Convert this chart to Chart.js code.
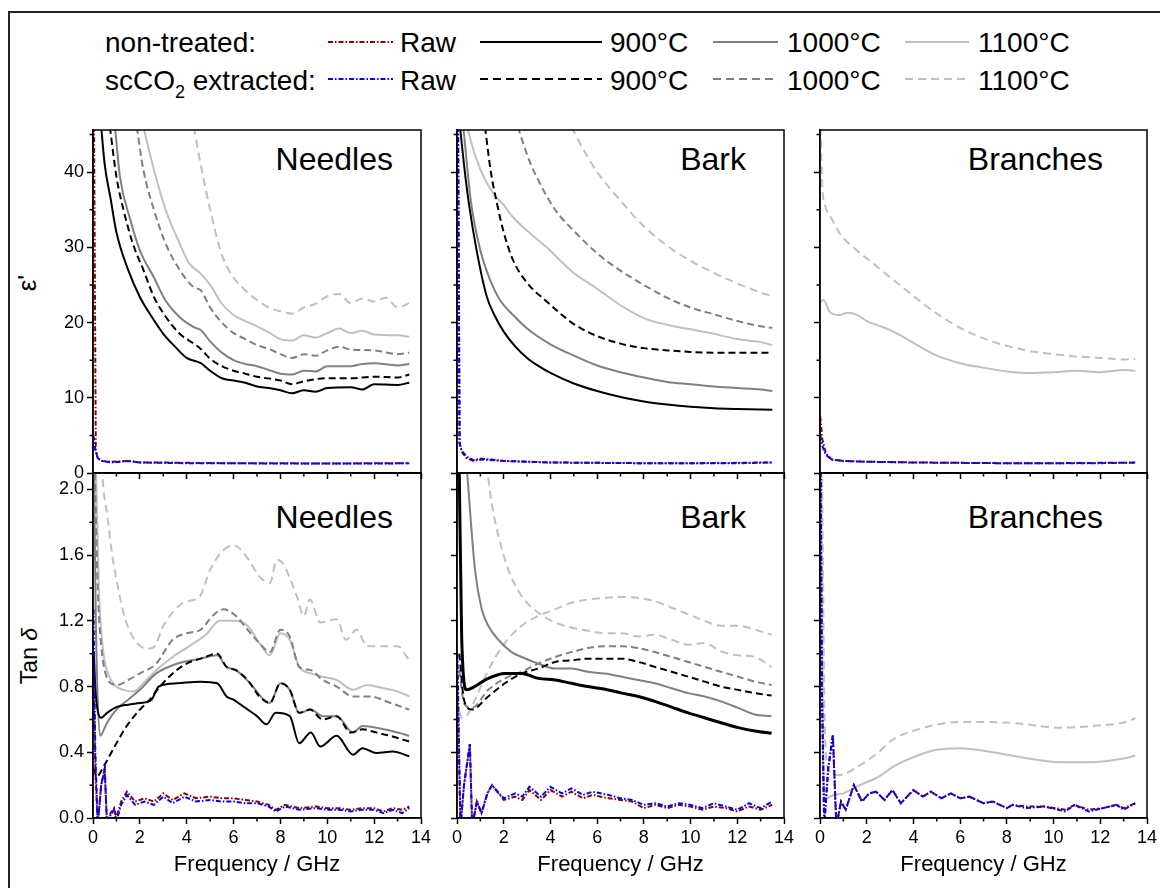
<!DOCTYPE html>
<html>
<head>
<meta charset="utf-8">
<script src="https://cdn.jsdelivr.net/npm/chart.js@4.4.0/dist/chart.umd.min.js"></script>
<style>
  body { margin: 0; width: 1160px; height: 888px; overflow: hidden; background: #fff; position: relative;
         font-family: "Liberation Sans", Arial, sans-serif; color: #000; }
  #frame { position: absolute; left: 8px; top: 11px; width: 1200px; height: 1000px; border: 2px solid #222; }
  .txt { position: absolute; line-height: 1; white-space: nowrap; }
  .leg { font-size: 28px; }
  .plab { font-size: 32px; }
  .ytitle { font-size: 23px; transform: translate(-50%, -50%) rotate(-90deg); }
  #legendLines { position: absolute; left: 0; top: 0; }
</style>
</head>
<body>
<div id="frame"></div>

<!-- legend -->
<svg id="legendLines" width="1160" height="110">
  <line x1="328" y1="42" x2="393" y2="42" stroke="#8b0000" stroke-width="2" stroke-dasharray="5 2 1.5 2"/>
  <line x1="328" y1="79" x2="393" y2="79" stroke="#0000ff" stroke-width="2" stroke-dasharray="5 2 1.5 2"/>
  <line x1="480" y1="42" x2="602" y2="42" stroke="#000" stroke-width="2"/>
  <line x1="480" y1="79" x2="602" y2="79" stroke="#000" stroke-width="2" stroke-dasharray="8 5"/>
  <line x1="713" y1="42" x2="778" y2="42" stroke="#808080" stroke-width="2"/>
  <line x1="713" y1="79" x2="778" y2="79" stroke="#808080" stroke-width="2" stroke-dasharray="8 5"/>
  <line x1="905" y1="42" x2="969" y2="42" stroke="#c0c0c0" stroke-width="2"/>
  <line x1="905" y1="79" x2="969" y2="79" stroke="#c0c0c0" stroke-width="2" stroke-dasharray="8 5"/>
</svg>
<div class="txt leg" style="left:105px;top:29px">non-treated:</div>
<div class="txt leg" style="left:105px;top:67px">scCO<sub style="font-size:18px;vertical-align:-8px">2</sub> extracted:</div>
<div class="txt leg" style="left:400px;top:29px">Raw</div>
<div class="txt leg" style="left:400px;top:67px">Raw</div>
<div class="txt leg" style="left:610px;top:29px">900°C</div>
<div class="txt leg" style="left:610px;top:67px">900°C</div>
<div class="txt leg" style="left:787px;top:29px">1000°C</div>
<div class="txt leg" style="left:787px;top:67px">1000°C</div>
<div class="txt leg" style="left:978px;top:29px">1100°C</div>
<div class="txt leg" style="left:978px;top:67px">1100°C</div>

<!-- axis titles -->
<div class="txt ytitle" style="left:27px;top:283px;font-size:26px">ε'</div>
<div class="txt ytitle" style="left:29px;top:656px">Tan <i>δ</i></div>

<!-- panel labels -->
<div class="txt plab" style="right:767px;top:143px">Needles</div>
<div class="txt plab" style="right:414px;top:143px">Bark</div>
<div class="txt plab" style="right:57px;top:143px">Branches</div>
<div class="txt plab" style="right:767px;top:501px">Needles</div>
<div class="txt plab" style="right:414px;top:501px">Bark</div>
<div class="txt plab" style="right:57px;top:501px">Branches</div>

<script>
// tick positions
const xTicks = [0, 2, 4, 6, 8, 10, 12, 14];
const xMinor = [1, 3, 5, 7, 9, 11, 13];
const epsTicks = [0, 10, 20, 30, 40];
const epsMinor = [5, 15, 25, 35, 45];
const tanTicks = [0, 0.4, 0.8, 1.2, 1.6, 2.0];
const tanMinor = [0.2, 0.6, 1.0, 1.4, 1.8];

// ---- epsilon' : [frequency GHz, value] ----
const epsNeedlesRawNT = [[0.02,60],[0.12,3],[0.2,2],[0.4,1.6],[0.8,1.5],[1.5,1.6],[2,1.4],[3,1.4],[4,1.35],[6,1.3],[8,1.3],[10,1.25],[12,1.3],[13.5,1.3]];
const epsNeedlesRawSC = [[0.02,5],[0.1,3],[0.2,2],[0.35,1.6],[0.8,1.4],[1.5,1.6],[2,1.4],[3,1.35],[4,1.3],[6,1.3],[8,1.25],[10,1.25],[12,1.25],[13.5,1.3]];
const epsNeedles900 = [[0.35,46],[0.5,41],[0.75,36.5],[1,32],[1.5,27],[2,23.4],[2.5,20.8],[3,18.5],[3.5,16.8],[4,15.3],[4.6,14.6],[5,13.6],[5.5,12.6],[6,12.3],[6.5,12],[7,11.5],[7.5,11.3],[8,11],[8.5,10.6],[9,11],[9.5,10.8],[10,11.3],[11,11.4],[11.5,11.1],[12,11.8],[13,11.7],[13.5,12]];
const epsNeedles900sc = [[0.72,46],[1,39.4],[1.3,35],[1.7,30.5],[2.15,27],[2.6,23.4],[3.1,20.8],[3.7,18.5],[4.3,17.2],[4.6,16.5],[5,15.2],[5.5,14.2],[6,13.6],[6.5,13.2],[7,12.8],[8,12.3],[8.5,11.8],[9,12.2],[10,12.6],[11,12.6],[12,12.8],[13,12.7],[13.5,13.1]];
const epsNeedles1000 = [[0.94,46],[1.15,39.4],[1.6,33.6],[2,29.6],[2.6,26],[3.1,22.9],[3.7,20.7],[4.3,19.4],[4.6,19],[5,17.5],[5.5,16],[6,15],[6.5,14.5],[7,14.2],[7.5,13.7],[8,13.2],[8.5,13.1],[9,13.6],[9.5,13.5],[10,14.2],[11,14.2],[11.5,14.5],[12,14.6],[13,14.3],[13.5,14.5]];
const epsNeedles1000sc = [[1.87,46],[2.15,40.3],[2.6,35],[3.1,30.5],[3.7,27],[4.3,24.7],[4.6,24.3],[5,22],[5.5,20],[6,18.6],[6.5,17.8],[7,17],[7.5,16.5],[8,15.8],[8.5,15.3],[9,15.8],[9.5,15.6],[10,16.3],[10.5,16.8],[11,16.4],[12,16.3],[13,15.8],[13.5,16]];
const epsNeedles1100 = [[2.15,46],[2.6,40.3],[3.1,35],[3.7,30.5],[4.1,27.9],[4.6,26.5],[5,25],[5.5,22.5],[6,21],[6.5,20.2],[7,19.5],[7.5,18.7],[8,17.8],[8.5,17.6],[9,18.3],[9.5,18],[10,18.6],[10.5,19.2],[11,18.6],[11.5,18.9],[12,18.4],[13,18.3],[13.5,18.1]];
const epsNeedles1100sc = [[4.3,46],[4.6,41],[5,35],[5.5,29],[6,26],[6.5,24.3],[7,23],[7.5,22],[8,21.5],[8.5,21.2],[9,22],[9.5,22.5],[10,23.5],[10.5,23.8],[11,22.6],[11.5,23.2],[12,22.8],[12.5,23.3],[13,22],[13.5,22.6]];

const epsBarkRawNT = [[0.02,60],[0.12,4],[0.2,2.8],[0.4,2],[0.7,1.6],[1,1.8],[1.5,1.7],[2,1.6],[3,1.5],[4,1.4],[6,1.35],[8,1.3],[10,1.3],[12,1.3],[13.5,1.4]];
const epsBarkRawSC = [[0.03,60],[0.1,4],[0.2,3],[0.4,2.2],[0.7,1.7],[1,1.9],[1.5,1.8],[2,1.6],[3,1.5],[4,1.4],[6,1.35],[8,1.3],[10,1.3],[12,1.35],[13.5,1.4]];
const epsBark900 = [[0.13,46],[0.3,41],[0.5,36],[0.84,29.6],[1.27,23.5],[1.6,21],[2,18.8],[2.5,16.8],[3,15.3],[3.5,14.2],[4,13.3],[5,11.9],[6,10.9],[7,10.1],[8,9.5],[9,9.1],[10,8.8],[11,8.6],[12,8.5],[13.5,8.4]];
const epsBark900sc = [[1.2,46],[1.45,40],[1.7,36],[2,32],[2.4,28.3],[3,25.3],[3.84,22.8],[4.5,21],[5,19.8],[6,18.2],[7,17.2],[8,16.6],[9,16.3],[10,16.1],[11,16],[12,16],[13.5,16]];
const epsBark1000 = [[0.27,46],[0.6,36],[1,29.6],[1.4,25.8],[1.84,23],[2.5,20.7],[3,19.2],[4,17.1],[5,15.6],[6,14.3],[7,13.4],[8,12.7],[9,12.1],[10,11.8],[11,11.5],[12,11.3],[13,11.1],[13.5,10.9]];
const epsBark1000sc = [[2.6,46],[3.1,41.5],[3.55,38.5],[4.2,35],[5,32.2],[6,29.2],[7,26.9],[8,25],[9,23.3],[10,22],[11,21.1],[12,20.2],[13,19.5],[13.5,19.3]];
const epsBark1100 = [[0.42,46],[0.8,42],[1.2,39],[1.55,37.2],[2,35.6],[2.4,34],[3,32.2],[3.84,30],[4.5,28],[5,26.6],[6,24.5],[7,22.3],[8,20.6],[9,19.7],[10,19.1],[11,18.5],[12,17.8],[13,17.4],[13.5,17]];
const epsBark1100sc = [[4.9,46],[5.5,42.5],[6,40],[7,36.2],[8,32.8],[9,30.2],[10,28.2],[11,26.6],[12,25.2],[13,24],[13.5,23.5]];

const epsBranchesRawNT = [[0.01,7.5],[0.1,4.5],[0.25,2.6],[0.5,1.8],[1,1.6],[2,1.5],[4,1.4],[6,1.35],[8,1.3],[10,1.3],[12,1.3],[13.5,1.4]];
const epsBranchesRawSC = [[0.01,5],[0.1,3.6],[0.25,2.4],[0.5,1.8],[1,1.6],[2,1.5],[4,1.4],[6,1.35],[8,1.3],[10,1.3],[12,1.35],[13.5,1.35]];
const epsBranches1100 = [[0.02,22.8],[0.15,23],[0.4,21.5],[0.8,21],[1.2,21.3],[1.6,21],[2,20.2],[2.5,19.6],[3,19],[3.5,18.2],[4,17.3],[4.5,16.4],[5,15.6],[6,14.6],[7,14],[8,13.5],[9,13.3],[10,13.4],[11,13.6],[12,13.4],[13,13.7],[13.5,13.6]];
const epsBranches1100sc = [[0.02,46],[0.1,38],[0.2,35.8],[0.5,33.8],[0.86,31.8],[1.5,29.8],[2.3,27.8],[3,26],[3.7,24.3],[4.5,22.3],[5,21.2],[6,19.3],[7,17.9],[8,16.9],[9,16.2],[10,15.8],[11,15.5],[12,15.3],[13,15.1],[13.5,15.2]];

// ---- tan delta : [frequency GHz, value] ----
const tanNeedlesRawNT = [[0.02,0.9],[0.1,0.3],[0.2,-0.05],[0.35,0.2],[0.5,0.3],[0.6,-0.05],[0.75,0.03],[0.9,0.06],[1.0,0.0],[1.2,0.1],[1.45,0.16],[1.8,0.1],[2.2,0.12],[2.6,0.1],[3.0,0.15],[3.4,0.11],[3.9,0.15],[4.4,0.12],[5,0.13],[5.5,0.12],[6,0.12],[6.5,0.11],[7,0.1],[7.5,0.08],[7.8,0.05],[8.2,0.08],[8.8,0.06],[9.5,0.07],[10,0.06],[10.5,0.06],[11,0.05],[11.5,0.06],[12,0.06],[12.4,0.04],[12.8,0.06],[13.2,0.05],[13.5,0.07]];
const tanNeedlesRawSC = [[0.02,1.27],[0.1,0.4],[0.2,-0.05],[0.35,0.2],[0.5,0.3],[0.6,-0.05],[0.75,0.02],[0.9,0.05],[1.0,-0.02],[1.2,0.08],[1.45,0.14],[1.8,0.08],[2.2,0.1],[2.6,0.08],[3.0,0.13],[3.4,0.09],[3.9,0.13],[4.4,0.1],[5,0.11],[5.5,0.1],[6,0.1],[6.5,0.09],[7,0.09],[7.5,0.07],[7.8,0.04],[8.2,0.07],[8.8,0.05],[9.5,0.06],[10,0.05],[10.5,0.05],[11,0.04],[11.5,0.05],[12,0.05],[12.4,0.03],[12.8,0.05],[13.2,0.03],[13.5,0.06]];
const tanNeedles900 = [[0.03,1.0],[0.12,0.75],[0.35,0.61],[0.6,0.64],[1,0.675],[1.5,0.69],[2,0.7],[2.5,0.72],[2.8,0.8],[3.6,0.82],[4.6,0.83],[5.3,0.82],[5.7,0.74],[6,0.72],[6.4,0.68],[7,0.62],[7.4,0.57],[7.8,0.64],[8.4,0.62],[8.8,0.455],[9.3,0.52],[9.7,0.435],[10.4,0.5],[11.1,0.385],[11.5,0.425],[12.1,0.395],[12.8,0.405],[13.5,0.375]];
const tanNeedles900sc = [[0.05,0.3],[0.15,0.25],[0.44,0.31],[1,0.455],[1.44,0.56],[2,0.66],[2.36,0.71],[2.86,0.8],[3.4,0.88],[4,0.94],[4.6,0.97],[5.3,1.0],[5.7,0.92],[6.1,0.9],[6.6,0.84],[7.1,0.74],[7.55,0.7],[8,0.82],[8.4,0.78],[8.8,0.64],[9.26,0.66],[9.8,0.6],[10.4,0.62],[11,0.52],[11.5,0.54],[12.1,0.52],[12.7,0.5],[13.5,0.465]];
const tanNeedles1000 = [[0.03,2.3],[0.12,1.2],[0.3,0.5],[0.6,0.58],[1,0.66],[1.5,0.72],[2,0.78],[2.7,0.88],[3.6,0.94],[4.6,0.97],[5.3,0.99],[5.7,0.92],[6.1,0.9],[6.7,0.82],[7.3,0.72],[7.55,0.7],[8,0.82],[8.4,0.78],[8.8,0.64],[9.3,0.66],[9.8,0.62],[10.4,0.62],[11.1,0.52],[11.5,0.56],[12.4,0.54],[13,0.52],[13.5,0.5]];
const tanNeedles1000sc = [[0.05,2.3],[0.2,1.4],[0.35,1.05],[0.5,0.9],[0.75,0.82],[1.05,0.81],[1.5,0.84],[2,0.88],[2.7,0.94],[3.4,1.085],[4,1.125],[4.6,1.146],[5.1,1.23],[5.56,1.27],[6.1,1.23],[6.6,1.146],[7.1,1.065],[7.55,1.01],[8,1.146],[8.4,1.105],[8.8,0.92],[9.3,0.9],[9.8,0.84],[10.4,0.8],[11.1,0.74],[11.8,0.74],[12.7,0.7],[13.5,0.66]];
const tanNeedles1100 = [[0.1,2.3],[0.25,1.4],[0.45,1.0],[0.7,0.86],[1.0,0.8],[1.3,0.78],[1.72,0.77],[2.15,0.82],[2.7,0.9],[3.4,0.98],[4.1,1.045],[4.85,1.12],[5.4,1.2],[6,1.2],[6.6,1.17],[7.1,1.065],[7.55,0.99],[8,1.125],[8.4,1.085],[8.8,0.92],[9.3,0.88],[9.8,0.86],[10.4,0.84],[11.1,0.78],[11.7,0.81],[12.4,0.79],[13,0.77],[13.5,0.74]];
const tanNeedles1100sc = [[0.3,2.3],[0.45,2.0],[0.6,1.85],[0.8,1.62],[1.0,1.45],[1.4,1.2],[1.8,1.08],[2.3,1.03],[2.6,1.04],[3.0,1.17],[3.85,1.31],[4.56,1.35],[5.0,1.51],[5.56,1.63],[6.0,1.66],[6.56,1.59],[7.1,1.47],[7.55,1.43],[7.84,1.57],[8.1,1.55],[8.7,1.35],[9.0,1.23],[9.26,1.33],[9.7,1.19],[10.4,1.21],[10.8,1.085],[11.25,1.146],[11.7,1.045],[12.4,1.045],[13.0,1.045],[13.5,0.96]];

const tanBarkRawNT = [[0.02,0.8],[0.08,0.4],[0.15,-0.05],[0.3,0.2],[0.45,0.35],[0.55,0.45],[0.65,-0.05],[0.85,0.1],[1.05,0.03],[1.3,0.15],[1.5,0.2],[2,0.11],[2.5,0.13],[2.8,0.11],[3.1,0.17],[3.6,0.11],[4.0,0.17],[4.5,0.13],[4.9,0.16],[5.4,0.12],[5.8,0.14],[6.5,0.12],[7,0.11],[7.5,0.1],[8,0.06],[8.5,0.08],[9,0.06],[9.5,0.08],[10,0.07],[10.5,0.05],[11,0.07],[11.5,0.06],[12,0.04],[12.5,0.07],[13,0.05],[13.5,0.08]];
const tanBarkRawSC = [[0.02,1.0],[0.08,0.5],[0.15,-0.05],[0.3,0.2],[0.45,0.35],[0.55,0.45],[0.65,-0.05],[0.85,0.1],[1.05,0.03],[1.3,0.15],[1.5,0.2],[2,0.12],[2.5,0.15],[2.8,0.13],[3.1,0.19],[3.6,0.13],[4.0,0.19],[4.5,0.15],[4.9,0.18],[5.4,0.14],[5.8,0.16],[6.5,0.14],[7,0.12],[7.5,0.11],[8,0.08],[8.5,0.09],[9,0.07],[9.5,0.09],[10,0.08],[10.5,0.06],[11,0.09],[11.5,0.07],[12,0.05],[12.5,0.09],[13,0.06],[13.5,0.1]];
const tanBark900 = [[0.08,2.3],[0.2,1.1],[0.41,0.78],[0.63,0.79],[1.34,0.85],[2.05,0.88],[2.77,0.88],[3.48,0.85],[4.2,0.84],[4.9,0.82],[5.6,0.8],[6.3,0.785],[7.05,0.76],[7.76,0.74],[8.47,0.71],[9.19,0.675],[9.9,0.64],[10.6,0.61],[11.3,0.58],[12.04,0.55],[12.75,0.53],[13.47,0.516]];
const tanBark900sc = [[0.1,1.0],[0.3,0.72],[0.63,0.66],[1.34,0.74],[2.05,0.82],[2.77,0.88],[3.48,0.91],[4.2,0.95],[4.9,0.96],[5.6,0.97],[6.3,0.97],[7.05,0.97],[7.76,0.95],[8.47,0.92],[9.19,0.89],[9.9,0.86],[10.6,0.83],[11.3,0.8],[12.04,0.78],[12.75,0.76],[13.47,0.745]];
const tanBark1000 = [[0.41,2.15],[0.77,1.51],[1.06,1.27],[1.34,1.17],[1.77,1.085],[2.34,1.01],[2.77,0.98],[3.48,0.94],[4.2,0.91],[4.9,0.91],[5.6,0.89],[6.3,0.88],[7.05,0.86],[7.76,0.84],[8.47,0.82],[9.19,0.79],[9.9,0.76],[10.6,0.74],[11.3,0.71],[12.04,0.67],[12.75,0.63],[13.47,0.62]];
const tanBark1000sc = [[0.1,0.9],[0.3,0.7],[0.63,0.67],[1.34,0.78],[2.05,0.85],[2.77,0.89],[3.48,0.94],[4.2,0.98],[4.9,1.01],[5.6,1.035],[6.3,1.045],[7.05,1.045],[7.76,1.035],[8.47,1.01],[9.19,0.98],[9.9,0.95],[10.6,0.92],[11.3,0.89],[12.04,0.86],[12.75,0.83],[13.47,0.81]];
const tanBark1100 = [[0.1,0.65],[0.2,0.61],[0.4,0.62],[0.77,0.72],[1.34,0.9],[2.05,1.065],[2.77,1.17],[3.48,1.23],[4.2,1.27],[4.9,1.31],[5.6,1.33],[6.3,1.34],[7.05,1.345],[7.76,1.34],[8.47,1.32],[9.19,1.28],[9.9,1.24],[10.6,1.2],[11.3,1.17],[12.04,1.17],[12.75,1.146],[13.47,1.115]];
const tanBark1100sc = [[1.27,2.15],[1.48,1.92],[1.77,1.72],[2.2,1.51],[2.77,1.35],[3.48,1.25],[4.2,1.19],[4.9,1.16],[5.6,1.14],[6.3,1.125],[7.05,1.125],[7.76,1.105],[8.47,1.115],[9.19,1.085],[9.9,1.055],[10.6,1.065],[11.3,1.015],[12.04,0.99],[12.75,0.98],[13.47,0.92]];

const tanBranchesRawNT = [[0.02,2.3],[0.08,0.8],[0.18,-0.05],[0.35,0.3],[0.55,0.5],[0.7,-0.05],[0.9,0.1],[1.1,0.05],[1.45,0.2],[1.8,0.1],[2.1,0.15],[2.4,0.16],[2.76,0.11],[3.1,0.17],[3.46,0.09],[4.0,0.17],[4.4,0.13],[4.75,0.16],[5.2,0.12],[5.6,0.15],[6.0,0.12],[6.4,0.13],[7.0,0.09],[7.4,0.1],[8.0,0.06],[8.25,0.08],[8.8,0.07],[9.6,0.07],[10.5,0.05],[10.9,0.08],[11.5,0.05],[12.1,0.06],[12.7,0.08],[13.0,0.06],[13.5,0.09]];
const tanBranchesRawSC = [[0.02,2.3],[0.08,0.8],[0.18,-0.05],[0.35,0.3],[0.55,0.51],[0.7,-0.05],[0.9,0.1],[1.1,0.05],[1.45,0.2],[1.8,0.1],[2.1,0.15],[2.4,0.16],[2.76,0.11],[3.1,0.17],[3.46,0.09],[4.0,0.17],[4.4,0.13],[4.75,0.16],[5.2,0.12],[5.6,0.15],[6.0,0.12],[6.4,0.13],[7.0,0.09],[7.4,0.1],[8.0,0.06],[8.25,0.08],[8.8,0.06],[9.6,0.07],[10.5,0.04],[10.9,0.08],[11.5,0.04],[12.1,0.06],[12.7,0.08],[13.0,0.05],[13.5,0.09]];
const tanBranches1100 = [[0.05,2.3],[0.12,0.6],[0.2,0.12],[0.6,0.14],[1.0,0.15],[1.7,0.2],[2.5,0.25],[3.1,0.31],[4.0,0.37],[5.0,0.415],[6.0,0.425],[7.4,0.4],[8.8,0.365],[10.3,0.34],[11.7,0.34],[13.1,0.365],[13.5,0.38]];
const tanBranches1100sc = [[0.08,2.3],[0.2,0.6],[0.35,0.3],[0.8,0.26],[1.7,0.32],[2.5,0.4],[3.1,0.475],[4.6,0.555],[6.0,0.585],[8.1,0.58],[10.3,0.55],[11.7,0.56],[13.4,0.6],[13.5,0.61]];

// line styles: colour, dash, width, smooth
const STYLES = {
    rawNT: { color: '#8b0000', dash: [5, 2, 1.5, 2], width: 2, smooth: false },
    rawSC: { color: '#0000ff', dash: [5, 2, 1.5, 2], width: 2, smooth: false },
    t900: { color: '#000000', dash: [], width: 2, smooth: true },
    t900sc: { color: '#000000', dash: [7, 4], width: 2, smooth: true },
    t1000: { color: '#808080', dash: [], width: 2, smooth: true },
    t1000sc: { color: '#808080', dash: [7, 4], width: 2, smooth: true },
    t1100: { color: '#c0c0c0', dash: [], width: 2, smooth: true },
    t1100sc: { color: '#c0c0c0', dash: [8, 5], width: 2, smooth: true }
};

// panel boxes in page pixels
const COLS = [{ l: 93, r: 421 }, { l: 457, r: 784 }, { l: 820, r: 1147 }];
const ROWS = [{ t: 130, b: 473 }, { t: 473, b: 818 }];

// [data, style, optional line width]
const PANELS = [
    { col: 0, row: 0, series: [[epsNeedlesRawSC, 'rawSC'], [epsNeedlesRawNT, 'rawNT'], [epsNeedles900, 't900'], [epsNeedles900sc, 't900sc'], [epsNeedles1000, 't1000'], [epsNeedles1000sc, 't1000sc'], [epsNeedles1100, 't1100'], [epsNeedles1100sc, 't1100sc']] },
    { col: 1, row: 0, series: [[epsBarkRawSC, 'rawSC'], [epsBarkRawNT, 'rawNT'], [epsBark900, 't900'], [epsBark900sc, 't900sc'], [epsBark1000, 't1000'], [epsBark1000sc, 't1000sc'], [epsBark1100, 't1100'], [epsBark1100sc, 't1100sc']] },
    { col: 2, row: 0, series: [[epsBranchesRawSC, 'rawSC'], [epsBranchesRawNT, 'rawNT'], [epsBranches1100, 't1100'], [epsBranches1100sc, 't1100sc']] },
    { col: 0, row: 1, series: [[tanNeedlesRawSC, 'rawSC'], [tanNeedlesRawNT, 'rawNT'], [tanNeedles900, 't900'], [tanNeedles900sc, 't900sc'], [tanNeedles1000, 't1000'], [tanNeedles1000sc, 't1000sc'], [tanNeedles1100, 't1100'], [tanNeedles1100sc, 't1100sc']] },
    { col: 1, row: 1, series: [[tanBarkRawSC, 'rawSC'], [tanBarkRawNT, 'rawNT'], [tanBark900, 't900', 3], [tanBark900sc, 't900sc'], [tanBark1000, 't1000'], [tanBark1000sc, 't1000sc'], [tanBark1100, 't1100sc'], [tanBark1100sc, 't1100sc']] },
    { col: 2, row: 1, series: [[tanBranchesRawSC, 'rawSC'], [tanBranchesRawNT, 'rawNT'], [tanBranches1100, 't1100'], [tanBranches1100sc, 't1100sc']] }
];

Chart.defaults.font.family = "'Liberation Sans', Arial, sans-serif";
Chart.defaults.color = '#000';

// box around the plot area plus the short minor ticks
const panelFrame = {
    id: 'panelFrame',
    afterDraw(chart, args, opts) {
        const { ctx, chartArea: a, scales } = chart;
        ctx.save();
        ctx.strokeStyle = '#000';
        ctx.lineWidth = 1.5;
        ctx.beginPath();
        opts.xMinor.forEach(v => {
            const px = scales.x.getPixelForValue(v);
            ctx.moveTo(px, a.bottom);
            ctx.lineTo(px, a.bottom + 3.5);
        });
        opts.yMinor.forEach(v => {
            const py = scales.y.getPixelForValue(v);
            ctx.moveTo(a.left, py);
            ctx.lineTo(a.left - 3.5, py);
        });
        ctx.stroke();
        ctx.strokeRect(a.left, a.top, a.right - a.left, a.bottom - a.top);
        ctx.restore();
    }
};

function buildPanel(p) {
    const col = COLS[p.col], row = ROWS[p.row];
    const isBottom = p.row === 1, isLeft = p.col === 0;
    const yW = isLeft ? 60 : 14;
    const xH = isBottom ? 64 : 20;
    const pad = 20;
    const w = yW + (col.r - col.l) + pad;
    const h = pad + (row.b - row.t) + xH;

    const cv = document.createElement('canvas');
    cv.width = w;
    cv.height = h;
    cv.style.cssText = `position:absolute;left:${col.l - yW}px;top:${row.t - pad}px;width:${w}px;height:${h}px`;
    document.body.appendChild(cv);

    const yTicks = isBottom ? tanTicks : epsTicks;
    const yMinor = isBottom ? tanMinor : epsMinor;

    const datasets = p.series.map(([pts, key, lw]) => {
        const st = STYLES[key];
        return {
            data: pts.map(([x, y]) => ({ x, y })),
            borderColor: st.color,
            borderDash: st.dash,
            borderWidth: lw || st.width,
            pointRadius: 0,
            fill: false,
            clip: 0,
            tension: 0,
            cubicInterpolationMode: st.smooth ? 'monotone' : 'default'
        };
    });

    new Chart(cv.getContext('2d'), {
        type: 'line',
        data: { datasets },
        options: {
            responsive: false,
            animation: false,
            devicePixelRatio: 1,
            layout: { padding: { top: pad, right: pad, left: 0, bottom: 0 } },
            plugins: {
                legend: { display: false },
                tooltip: { enabled: false },
                panelFrame: { xMinor, yMinor }
            },
            scales: {
                x: {
                    type: 'linear',
                    min: 0,
                    max: 14,
                    afterBuildTicks: s => { s.ticks = xTicks.map(v => ({ value: v })); },
                    afterFit: s => { s.height = xH; },
                    ticks: { display: isBottom, font: { size: 18 }, padding: 3, maxRotation: 0, autoSkip: false },
                    grid: { drawOnChartArea: false, drawTicks: true, tickLength: 6, tickColor: '#000', tickWidth: 1.5 },
                    border: { color: '#000', width: 1.5 },
                    title: { display: isBottom, text: 'Frequency / GHz', font: { size: 22 }, padding: { top: 4, bottom: 4 } }
                },
                y: {
                    type: 'linear',
                    min: 0,
                    max: isBottom ? 2.1 : 45.6,
                    afterBuildTicks: s => { s.ticks = yTicks.map(v => ({ value: v })); },
                    afterFit: s => { s.width = yW; },
                    ticks: {
                        display: isLeft,
                        font: { size: 18 },
                        padding: 3,
                        callback: v => isBottom ? v.toFixed(1) : String(v)
                    },
                    grid: { drawOnChartArea: false, drawTicks: true, tickLength: 6, tickColor: '#000', tickWidth: 1.5 },
                    border: { color: '#000', width: 1.5 }
                }
            }
        },
        plugins: [panelFrame]
    });
}

PANELS.forEach(buildPanel);
</script>
</body>
</html>
